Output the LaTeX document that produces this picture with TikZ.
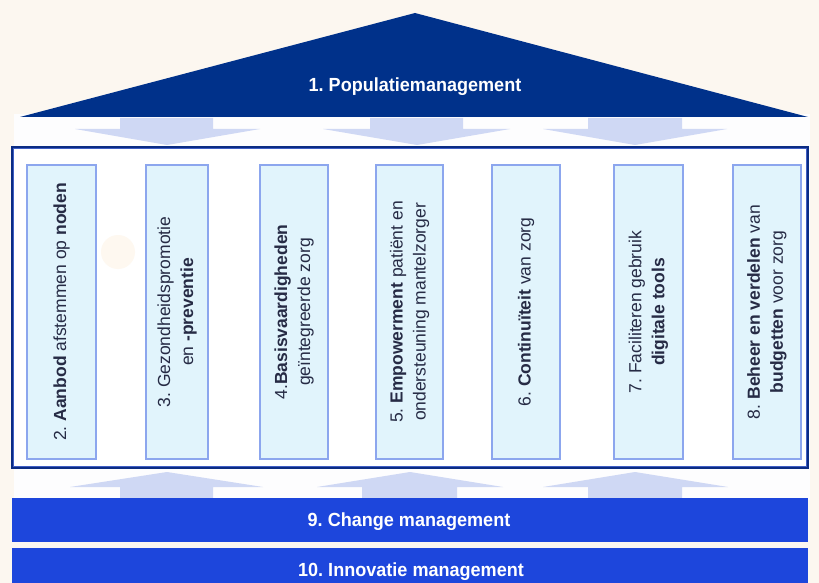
\documentclass[tikz,border=0pt]{standalone}
\usepackage{fontspec}
\setmainfont{Liberation Sans}
\newfontfamily\narrowbold[FakeStretch=0.95]{Liberation Sans Bold}
\frenchspacing
\definecolor{bgcream}{HTML}{FCF7F0}
\definecolor{bandwhite}{HTML}{FDFDFE}
\definecolor{roofnavy}{HTML}{00318A}
\definecolor{framenavy}{HTML}{0B2C84}
\definecolor{frameinner}{HTML}{3F5EC4}
\definecolor{barblue}{HTML}{1D46DC}
\definecolor{arrowlav}{HTML}{CFD8F4}
\definecolor{pillarfill}{HTML}{E1F4FC}
\definecolor{pillarline}{HTML}{8CA6EE}
\definecolor{ptextcol}{HTML}{262B45}
\definecolor{smudge}{HTML}{FEF8F0}
\tikzset{
  pillar/.style={draw=pillarline, fill=pillarfill, line width=1.4pt, inner sep=0pt},
  ptext/.style={rotate=90, align=center, text=ptextcol, inner sep=0pt,
    font=\frenchspacing\fontsize{17.5}{23}\selectfont},
  bartext/.style={text=white, inner sep=0pt, font=\narrowbold\frenchspacing\fontsize{19}{22}\selectfont},
  bar/.style={fill=barblue, draw=none, inner sep=0pt},
  blockarrow/.style={fill=arrowlav, draw=none}
}
\begin{document}
\begin{tikzpicture}[x=1pt,y=-1pt]
\useasboundingbox (0,0) rectangle (819,583);
\clip (0,0) rectangle (819,583);
\fill[bgcream] (0,0) rectangle (819,583);
% white band behind the temple
\fill[bandwhite] (14,114) rectangle (810,500);
% roof
\coordinate (apex) at (415,13);
\coordinate (roofL) at (20,117);
\coordinate (roofR) at (808,117);
\fill[roofnavy] (roofL) -- (apex) -- (roofR) -- cycle;
\node[bartext] (roof) at (415,87) {1. Populatiemanagement};
% down arrows
\foreach \sl/\sr/\hl/\hr/\t in {120/213/75/260/167, 370/463/323/510/417, 588/682/543/727/635}{
  \fill[blockarrow] (\sl,118) -- (\sr,118) -- (\sr,129) -- (\hr,129) -- (\t,145)
     -- (\hl,129) -- (\sl,129) -- cycle;
}
% up arrows
\foreach \sl/\sr/\hl/\hr/\t in {120/213/70/263/167, 362/457/317/503/410, 588/682/543/728/635}{
  \fill[blockarrow] (\t,472) -- (\hr,487) -- (\sr,487) -- (\sr,498) -- (\sl,498)
     -- (\sl,487) -- (\hl,487) -- cycle;
}
% frame
\fill[white] (12,147) rectangle (808,468);
\draw[framenavy, line width=2.6pt] (12,147) rectangle (808,468);
\draw[frameinner, line width=0.8pt] (13.7,148.7) rectangle (806.3,466.3);
% faint smudge
\fill[smudge] (118,252) circle (17);
% pillars
\node[pillar, minimum width=69pt, minimum height=294pt] (p2) at (61.5,312) {};
\node[pillar, minimum width=62pt, minimum height=294pt] (p3) at (177,312) {};
\node[pillar, minimum width=68pt, minimum height=294pt] (p4) at (294,312) {};
\node[pillar, minimum width=67pt, minimum height=294pt] (p5) at (409.5,312) {};
\node[pillar, minimum width=68pt, minimum height=294pt] (p6) at (526,312) {};
\node[pillar, minimum width=69pt, minimum height=294pt] (p7) at (648.5,312) {};
\node[pillar, minimum width=68pt, minimum height=294pt] (p8) at (767,312) {};
\node[ptext] (t2) at (p2.center) {2. \textbf{Aanbod} afstemmen op \textbf{noden}};
\node[ptext] (t3) at (p3.center) {3. Gezondheidspromotie\\en \textbf{-preventie}};
\node[ptext] (t4) at (p4.center) {4.\textbf{Basisvaardigheden}\\geïntegreerde zorg};
\node[ptext] (t5) at (p5.center) {5. \textbf{Empowerment} patiënt en\\ondersteuning mantelzorger};
\node[ptext] (t6) at (p6.center) {6. \textbf{Continuïteit} van zorg};
\node[ptext] (t7) at (p7.center) {7. Faciliteren gebruik\\\textbf{digitale tools}};
\node[ptext] (t8) at (p8.center) {8. \textbf{Beheer en verdelen} van\\\textbf{budgetten} voor zorg};
% bars
\node[bar, minimum width=796pt, minimum height=44pt] (b9) at (410,520) {};
\node[bartext] (t9) at (409,522) {9. Change management};
\node[bar, minimum width=796pt, minimum height=48pt] (b10) at (410,572) {};
\node[bartext] (t10) at (411,572) {10. Innovatie management};
\end{tikzpicture}
\end{document}
